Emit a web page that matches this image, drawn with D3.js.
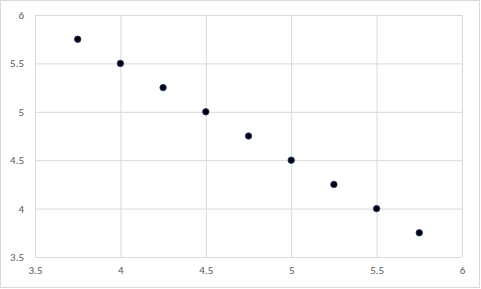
<!DOCTYPE html>
<html>
<head>
<meta charset="utf-8">
<script src="https://cdn.jsdelivr.net/npm/d3@7"></script>
<style>
  body { margin: 0; background: #fff; }
  text { font-family: Carlito, "Liberation Sans", "Open Sans", sans-serif; font-size: 11px; fill: #595959; }
</style>
</head>
<body>
<svg id="chart" width="481" height="289"></svg>
<script>
const xValues = [3.75, 4, 4.25, 4.5, 4.75, 5, 5.25, 5.5, 5.75];
const yValues = [5.75, 5.5, 5.25, 5, 4.75, 4.5, 4.25, 4, 3.75];
const xTicks = [3.5, 4, 4.5, 5, 5.5, 6];
const yTicks = [3.5, 4, 4.5, 5, 5.5, 6];

const margin = { top: 15, right: 19, bottom: 32, left: 35 },
  width = 481,
  height = 289;

const svg = d3.select('#chart');

svg.append('rect')
  .attr('x', 0.5).attr('y', 0.5)
  .attr('width', width - 2).attr('height', height - 2)
  .attr('fill', '#fff')
  .attr('stroke', '#d9d9d9');

const x = d3.scaleLinear().domain([3.5, 6]).range([margin.left, width - margin.right]);
const y = d3.scaleLinear().domain([3.5, 6]).range([height - margin.bottom, margin.top]);

const fmt = d => String(d);

svg.append('g')
  .attr('transform', `translate(0,${height - margin.bottom})`)
  .call(d3.axisBottom(x).tickValues(xTicks).tickFormat(fmt)
    .tickSize(-(height - margin.top - margin.bottom)).tickPadding(9))
  .call(g => g.select('.domain').remove())
  .call(g => g.selectAll('.tick line').attr('stroke', '#d9d9d9'))
  .call(g => g.selectAll('.tick text').attr('fill', '#595959'));

svg.append('g')
  .attr('transform', `translate(${margin.left},0)`)
  .call(d3.axisLeft(y).tickValues(yTicks).tickFormat(fmt)
    .tickSize(-(width - margin.left - margin.right)).tickPadding(11))
  .call(g => g.select('.domain').remove())
  .call(g => g.selectAll('.tick line').attr('stroke', '#d9d9d9'))
  .call(g => g.selectAll('.tick text').attr('fill', '#595959'));

svg.append('g')
  .selectAll('circle')
  .data(xValues.map((v, i) => ({ x: v, y: yValues[i] })))
  .join('circle')
  .attr('cx', d => x(d.x))
  .attr('cy', d => y(d.y))
  .attr('r', 3.2)
  .attr('fill', '#000')
  .attr('stroke', '#1f3a7a')
  .attr('stroke-width', 0.9);
</script>
</body>
</html>
